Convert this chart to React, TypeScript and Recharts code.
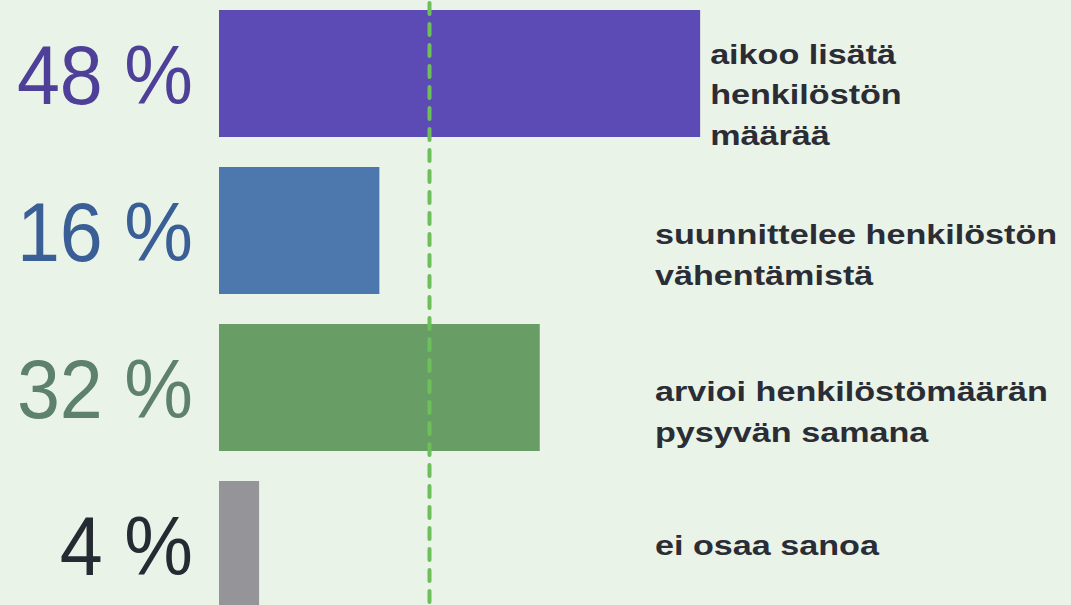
import React from 'react';
import { BarChart, Bar, XAxis, YAxis, Cell, LabelList, ReferenceLine } from 'recharts';

// answer shares (%) for each option, top to bottom
const categories = [
  'aikoo lisätä\nhenkilöstön\nmäärää',
  'suunnittelee henkilöstön\nvähentämistä',
  'arvioi henkilöstömäärän\npysyvän samana',
  'ei osaa sanoa',
];
const values = [48, 16, 32, 4];
const referenceValue = 21;

const BAR_COLORS = ['#5C4BB5', '#4C78AE', '#689E65', '#959499'];
const PCT_COLORS = ['#4E3F98', '#3A5F96', '#5E806F', '#262A33'];

const data = categories.map((name, i) => ({ name, value: values[i] }));

const FONT = '"Liberation Sans", Arial, sans-serif';

const PercentLabel = (props: any) => {
  const { x, y, height, value, index } = props;
  const tx = x - 26;
  return (
    <g transform={`translate(${tx} ${y + height / 2 + 30}) scale(0.92 1)`}>
      <text x={0} y={0} textAnchor="end" fontFamily={FONT} fontSize={84} fill={PCT_COLORS[index]}>
        {`${value} %`}
      </text>
    </g>
  );
};

const NameLabel = (props: any) => {
  const { x, y, width, height, index } = props;
  const lines = categories[index].split('\n');
  const tx = Math.max(x + width + 10, 655);
  // multi-line labels sit a bit below the bar centre
  const shift = lines.length === 1 ? 0 : lines.length === 2 ? 24 : 21;
  const first = y + height / 2 - (lines.length - 1) * 20.5 + 10 + shift;
  return (
    <g transform={`translate(${tx} ${first}) scale(1.22 1)`}>
      <text x={0} y={0} fontFamily={FONT} fontSize={28} fontWeight="bold" fill="#2A2D35">
        {lines.map((l, i) => (
          <tspan key={i} x={0} y={i * 41}>
            {l}
          </tspan>
        ))}
      </text>
    </g>
  );
};

export default function App() {
  return (
    <div
      style={{
        position: 'absolute',
        top: 0,
        left: 0,
        width: 1071,
        height: 605,
        overflow: 'hidden',
        background: '#EAF3E7',
      }}
    >
      <div style={{ marginTop: -5 }}>
        <BarChart
          width={1071}
          height={628}
          data={data}
          layout="vertical"
          margin={{ top: 0, right: 0, left: 219, bottom: 0 }}
        >
          <XAxis type="number" domain={[0, 85]} hide />
          <YAxis type="category" dataKey="name" hide width={0} />
          <Bar dataKey="value" barSize={127} isAnimationActive={false}>
            {data.map((d, i) => (
              <Cell key={d.name} fill={BAR_COLORS[i]} />
            ))}
            <LabelList dataKey="value" content={<PercentLabel />} />
            <LabelList dataKey="name" content={<NameLabel />} />
          </Bar>
          <ReferenceLine
            x={referenceValue}
            stroke="#6CBF5B"
            strokeWidth={4}
            strokeDasharray="11 10"
            strokeLinecap="round"
            ifOverflow="extendDomain"
          />
        </BarChart>
      </div>
    </div>
  );
}
